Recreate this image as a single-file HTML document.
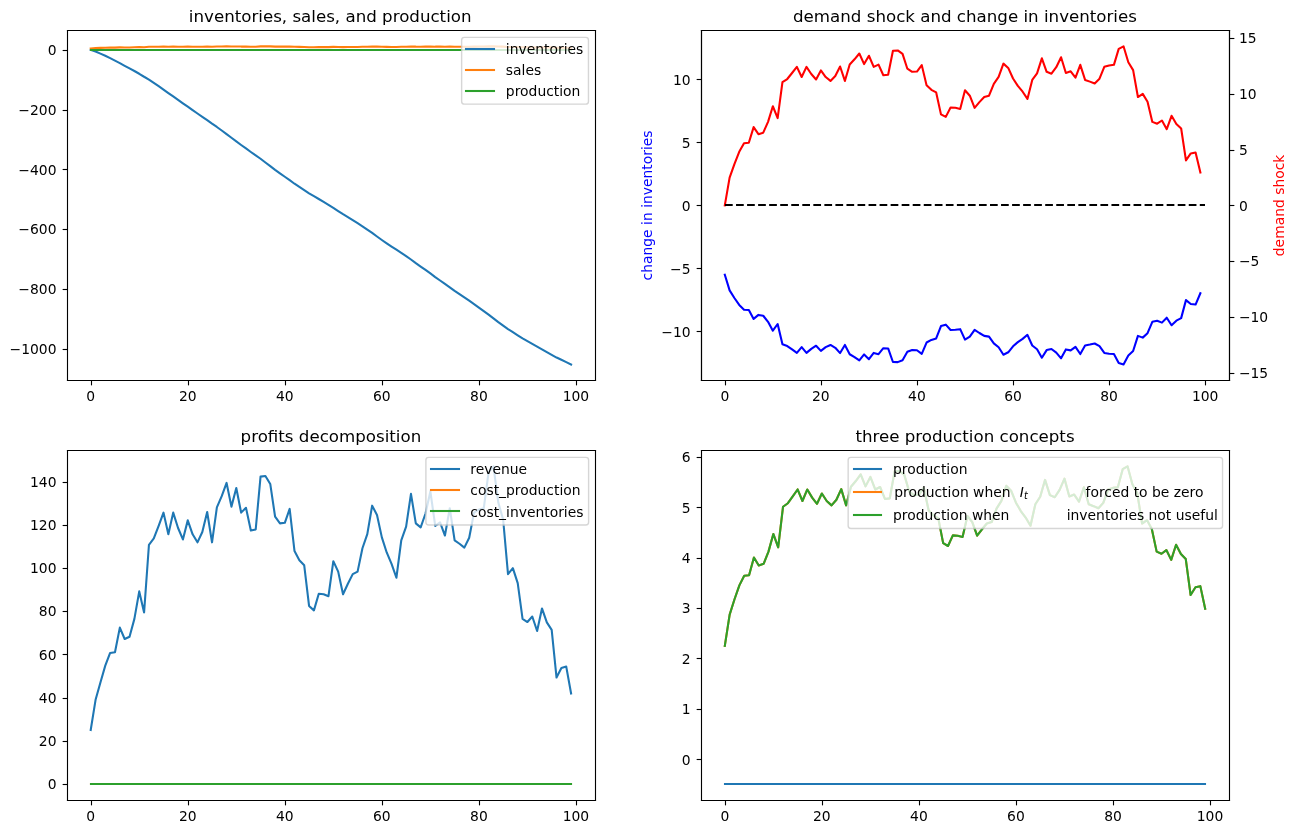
<!DOCTYPE html>
<html lang="en">
<head>
<meta charset="utf-8">
<title>inventories, sales, and production</title>
<style>
html,body{margin:0;padding:0;background:#fff}
#wrap{position:relative;width:1297px;height:834px;overflow:hidden;background:#fff}
#fig{position:absolute;left:0;top:0;display:block}
#fig text{font-family:"DejaVu Sans","Liberation Sans",sans-serif}
</style>
</head>
<body>
<div id="wrap">
<svg id="fig" width="1297" height="834" viewBox="86.97600 64.51200 933.84000 600.48000">
<defs>
<style type="text/css">*{stroke-linejoin: round; stroke-linecap: butt}</style>
</defs>
<g id="figure_1">
<g id="patch_1">
<path d="M 0 720  L 1080 720  L 1080 0  L 0 0  z" style="fill: #ffffff"/>
</g>
<g id="axes_1">
<g id="patch_2">
<path d="M 135 338.4  L 515.454545 338.4  L 515.454545 86.4  L 135 86.4  z" style="fill: #ffffff"/>
</g>
<g id="matplotlib.axis_1">
<g id="xtick_1">
<g id="line2d_1">
<g>
<path d="M 0 0 L 0 3.5" transform="translate(152.856 338.472)" style="stroke: #000000; stroke-width: 0.8"/>
</g>
</g>
<g id="text_1">
<text style="font-size: 10px; font-family: 'DejaVu Sans', sans-serif; text-anchor: middle" x="152.293388" y="352.998437">0</text>
</g>
</g>
<g id="xtick_2">
<g id="line2d_2">
<g>
<path d="M 0 0 L 0 3.5" transform="translate(222.696 338.472)" style="stroke: #000000; stroke-width: 0.8"/>
</g>
</g>
<g id="text_2">
<text style="font-size: 10px; font-family: 'DejaVu Sans', sans-serif; text-anchor: middle" x="222.165665" y="352.998437">20</text>
</g>
</g>
<g id="xtick_3">
<g id="line2d_3">
<g>
<path d="M 0 0 L 0 3.5" transform="translate(292.536 338.472)" style="stroke: #000000; stroke-width: 0.8"/>
</g>
</g>
<g id="text_3">
<text style="font-size: 10px; font-family: 'DejaVu Sans', sans-serif; text-anchor: middle" x="292.037941" y="352.998437">40</text>
</g>
</g>
<g id="xtick_4">
<g id="line2d_4">
<g>
<path d="M 0 0 L 0 3.5" transform="translate(362.376 338.472)" style="stroke: #000000; stroke-width: 0.8"/>
</g>
</g>
<g id="text_4">
<text style="font-size: 10px; font-family: 'DejaVu Sans', sans-serif; text-anchor: middle" x="361.910218" y="352.998437">60</text>
</g>
</g>
<g id="xtick_5">
<g id="line2d_5">
<g>
<path d="M 0 0 L 0 3.5" transform="translate(432.216 338.472)" style="stroke: #000000; stroke-width: 0.8"/>
</g>
</g>
<g id="text_5">
<text style="font-size: 10px; font-family: 'DejaVu Sans', sans-serif; text-anchor: middle" x="431.782494" y="352.998437">80</text>
</g>
</g>
<g id="xtick_6">
<g id="line2d_6">
<g>
<path d="M 0 0 L 0 3.5" transform="translate(502.056 338.472)" style="stroke: #000000; stroke-width: 0.8"/>
</g>
</g>
<g id="text_6">
<text style="font-size: 10px; font-family: 'DejaVu Sans', sans-serif; text-anchor: middle" x="501.654771" y="352.998437">100</text>
</g>
</g>
</g>
<g id="matplotlib.axis_2">
<g id="ytick_1">
<g id="line2d_7">
<g>
<path d="M 0 0 L -3.5 0" transform="translate(135.576 316.152)" style="stroke: #000000; stroke-width: 0.8"/>
</g>
</g>
<g id="text_7">
<text style="font-size: 10px; font-family: 'DejaVu Sans', sans-serif; text-anchor: end" x="127.6400" y="319.360076">−1000</text>
</g>
</g>
<g id="ytick_2">
<g id="line2d_8">
<g>
<path d="M 0 0 L -3.5 0" transform="translate(135.576 272.952)" style="stroke: #000000; stroke-width: 0.8"/>
</g>
</g>
<g id="text_8">
<text style="font-size: 10px; font-family: 'DejaVu Sans', sans-serif; text-anchor: end" x="127.6400" y="276.34048">−800</text>
</g>
</g>
<g id="ytick_3">
<g id="line2d_9">
<g>
<path d="M 0 0 L -3.5 0" transform="translate(135.576 229.752)" style="stroke: #000000; stroke-width: 0.8"/>
</g>
</g>
<g id="text_9">
<text style="font-size: 10px; font-family: 'DejaVu Sans', sans-serif; text-anchor: end" x="127.6400" y="233.320884">−600</text>
</g>
</g>
<g id="ytick_4">
<g id="line2d_10">
<g>
<path d="M 0 0 L -3.5 0" transform="translate(135.576 186.552)" style="stroke: #000000; stroke-width: 0.8"/>
</g>
</g>
<g id="text_10">
<text style="font-size: 10px; font-family: 'DejaVu Sans', sans-serif; text-anchor: end" x="127.6400" y="190.301288">−400</text>
</g>
</g>
<g id="ytick_5">
<g id="line2d_11">
<g>
<path d="M 0 0 L -3.5 0" transform="translate(135.576 144.072)" style="stroke: #000000; stroke-width: 0.8"/>
</g>
</g>
<g id="text_11">
<text style="font-size: 10px; font-family: 'DejaVu Sans', sans-serif; text-anchor: end" x="127.6400" y="147.281692">−200</text>
</g>
</g>
<g id="ytick_6">
<g id="line2d_12">
<g>
<path d="M 0 0 L -3.5 0" transform="translate(135.576 100.872)" style="stroke: #000000; stroke-width: 0.8"/>
</g>
</g>
<g id="text_12">
<text style="font-size: 10px; font-family: 'DejaVu Sans', sans-serif; text-anchor: end" x="127.6400" y="104.262096">0</text>
</g>
</g>
</g>
<g id="line2d_13">
<path d="M 152.293388 100.462877  L 155.787002 101.645916  L 159.280616 103.095999  L 162.77423 104.677292  L 166.267844 106.376889  L 169.761458 108.159298  L 173.255071 109.946009  L 176.748685 111.883289  L 180.242299 113.752814  L 183.735913 115.636319  L 187.229527 117.624147  L 190.72314 119.762544  L 194.216754 121.786938  L 197.710368 124.157817  L 201.203982 126.558543  L 204.697596 129.01704  L 208.19121 131.535233  L 211.684823 133.955216  L 215.178437 136.473409  L 218.672051 138.922277  L 222.165665 141.31819  L 225.659279 143.80172  L 229.152893 146.221704  L 232.646506 148.604136  L 236.14012 151.034711  L 239.633734 153.555792  L 243.127348 155.938225  L 246.620962 158.479526  L 250.114576 161.069931  L 253.608189 163.716632  L 257.101803 166.261334  L 260.595417 168.886402  L 264.089031 171.404594  L 267.582645 173.943969  L 271.076258 176.381284  L 274.569872 178.823412  L 278.063486 181.496622  L 281.5571 184.17272  L 285.050714 186.815119  L 288.544328 189.315018  L 292.037941 191.785069  L 295.531555 194.257527  L 299.025169 196.792088  L 302.518783 199.133119  L 306.012397 201.429859  L 309.506011 203.701565  L 312.999624 205.761447  L 316.493238 207.797258  L 319.986852 209.923576  L 323.480466 212.047005  L 326.97408 214.159843  L 330.467693 216.451769  L 333.961307 218.691701  L 337.454921 220.815131  L 340.948535 222.993442  L 344.442149 225.220857  L 347.935763 227.46079  L 351.429376 229.8153  L 354.92299 232.236246  L 358.416604 234.78525  L 361.910218 237.292852  L 365.403832 239.698392  L 368.897446 242.032683  L 372.391059 244.311129  L 375.884673 246.520251  L 379.378287 248.912312  L 382.871901 251.36792  L 386.365515 253.967954  L 389.859128 256.438005  L 393.352742 258.889762  L 396.846356 261.404104  L 400.33997 264.014729  L 403.833584 266.473226  L 407.327198 268.948091  L 410.820811 271.362297  L 414.314425 273.899747  L 417.808039 276.291808  L 421.301653 278.6675  L 424.795267 281.024899  L 428.288881 283.428514  L 431.782494 285.946707  L 435.276108 288.47838  L 438.769722 291.015829  L 442.263336 293.707333  L 445.75695 296.423214  L 449.250563 298.985697  L 452.744177 301.472116  L 456.237791 303.699532  L 459.731405 305.956795  L 463.225019 308.137995  L 466.718633 310.125664  L 470.212246 312.095521  L 473.70586 314.096669  L 477.199474 316.014051  L 480.693088 318.060454  L 484.186702 320.027903  L 487.680316 321.952025  L 491.173929 323.569001  L 494.667543 325.252414  L 498.161157 326.945455" clip-path="url(#p74cd14d514)" style="fill: none; stroke: #1f77b4; stroke-width: 1.5; stroke-linecap: square"/>
</g>
<g id="line2d_14">
<path d="M 152.293388 99.387387  L 155.787002 99.120343  L 159.280616 98.989134  L 162.77423 98.87083  L 166.267844 98.788017  L 169.761458 98.783715  L 173.255071 98.633146  L 176.748685 98.700902  L 180.242299 98.686921  L 183.735913 98.582598  L 187.229527 98.43203  L 190.72314 98.546032  L 194.216754 98.199548  L 197.710368 98.1697  L 201.203982 98.111929  L 204.697596 98.052234  L 208.19121 98.150443  L 211.684823 98.052234  L 215.178437 98.121558  L 218.672051 98.174514  L 222.165665 98.086896  L 225.659279 98.150443  L 229.152893 98.187994  L 232.646506 98.139852  L 236.14012 98.049345  L 239.633734 98.187994  L 243.127348 98.029125  L 246.620962 97.980021  L 250.114576 97.923725  L 253.608189 98.025725  L 257.101803 97.945359  L 260.595417 98.052234  L 264.089031 98.031051  L 267.582645 98.133112  L 271.076258 98.128298  L 274.569872 97.897217  L 278.063486 97.894328  L 281.5571 97.928027  L 285.050714 98.070527  L 288.544328 98.100375  L 292.037941 98.097968  L 295.531555 98.035865  L 299.025169 98.229396  L 302.518783 98.273686  L 306.012397 98.29872  L 309.506011 98.510544  L 312.999624 98.534615  L 316.493238 98.444109  L 319.986852 98.446997  L 323.480466 98.457588  L 326.97408 98.2785  L 330.467693 98.330494  L 333.961307 98.446997  L 337.454921 98.392115  L 340.948535 98.343011  L 344.442149 98.330494  L 347.935763 98.215916  L 351.429376 98.14948  L 354.92299 98.021423  L 358.416604 98.062825  L 361.910218 98.164886  L 365.403832 98.236136  L 368.897446 98.29198  L 372.391059 98.361304  L 375.884673 98.178365  L 379.378287 98.114818  L 382.871901 97.970392  L 386.365515 98.100375  L 389.859128 98.118669  L 393.352742 98.056085  L 396.846356 97.959801  L 400.33997 98.111929  L 403.833584 98.095561  L 407.327198 98.15622  L 410.820811 98.032977  L 414.314425 98.178365  L 417.808039 98.194734  L 421.301653 98.213027  L 424.795267 98.166811  L 428.288881 98.052234  L 431.782494 98.038754  L 435.276108 98.032977  L 438.769722 97.878923  L 442.263336 97.854545  L 445.75695 98.007943  L 449.250563 98.084007  L 452.744177 98.343011  L 456.237791 98.313163  L 459.731405 98.389227  L 463.225019 98.582757  L 466.718633 98.60057  L 470.212246 98.569277  L 473.70586 98.653044  L 477.199474 98.524024  L 480.693088 98.602977  L 484.186702 98.646305  L 487.680316 98.95345  L 491.173929 98.887014  L 494.667543 98.877386  L 498.161157 99.070916" clip-path="url(#p74cd14d514)" style="fill: none; stroke: #ff7f0e; stroke-width: 1.5; stroke-linecap: square"/>
</g>
<g id="line2d_15">
<path d="M 152.496 100.512 L 156.096 100.512 L 158.976 100.512 L 162.576 100.512 L 166.176 100.512 L 169.776 100.512 L 173.376 100.512 L 176.976 100.512 L 180.576 100.512 L 183.456 100.512 L 187.056 100.512 L 190.656 100.512 L 194.256 100.512 L 197.856 100.512 L 201.456 100.512 L 205.056 100.512 L 207.936 100.512 L 211.536 100.512 L 215.136 100.512 L 218.736 100.512 L 222.336 100.512 L 225.936 100.512 L 228.816 100.512 L 232.416 100.512 L 236.016 100.512 L 239.616 100.512 L 243.216 100.512 L 246.816 100.512 L 250.416 100.512 L 253.296 100.512 L 256.896 100.512 L 260.496 100.512 L 264.096 100.512 L 267.696 100.512 L 271.296 100.512 L 274.896 100.512 L 277.776 100.512 L 281.376 100.512 L 284.976 100.512 L 288.576 100.512 L 292.176 100.512 L 295.776 100.512 L 299.376 100.512 L 302.256 100.512 L 305.856 100.512 L 309.456 100.512 L 313.056 100.512 L 316.656 100.512 L 320.256 100.512 L 323.136 100.512 L 326.736 100.512 L 330.336 100.512 L 333.936 100.512 L 337.536 100.512 L 341.136 100.512 L 344.736 100.512 L 347.616 100.512 L 351.216 100.512 L 354.816 100.512 L 358.416 100.512 L 362.016 100.512 L 365.616 100.512 L 369.216 100.512 L 372.096 100.512 L 375.696 100.512 L 379.296 100.512 L 382.896 100.512 L 386.496 100.512 L 390.096 100.512 L 393.696 100.512 L 396.576 100.512 L 400.176 100.512 L 403.776 100.512 L 407.376 100.512 L 410.976 100.512 L 414.576 100.512 L 417.456 100.512 L 421.056 100.512 L 424.656 100.512 L 428.256 100.512 L 431.856 100.512 L 435.456 100.512 L 439.056 100.512 L 441.936 100.512 L 445.536 100.512 L 449.136 100.512 L 452.736 100.512 L 456.336 100.512 L 459.936 100.512 L 463.536 100.512 L 466.416 100.512 L 470.016 100.512 L 473.616 100.512 L 477.216 100.512 L 480.816 100.512 L 484.416 100.512 L 488.016 100.512 L 490.896 100.512 L 494.496 100.512 L 498.096 100.512" clip-path="url(#p74cd14d514)" style="fill: none; stroke: #2ca02c; stroke-width: 1.5; stroke-linecap: square"/>
</g>
<g id="patch_3">
<path d="M 135.576 338.472 L 135.576 86.472" style="fill: none; stroke: #000000; stroke-width: 0.8; stroke-linejoin: miter; stroke-linecap: square"/>
</g>
<g id="patch_4">
<path d="M 515.736 338.472 L 515.736 86.472" style="fill: none; stroke: #000000; stroke-width: 0.8; stroke-linejoin: miter; stroke-linecap: square"/>
</g>
<g id="patch_5">
<path d="M 135.576 338.472 L 515.736 338.472" style="fill: none; stroke: #000000; stroke-width: 0.8; stroke-linejoin: miter; stroke-linecap: square"/>
</g>
<g id="patch_6">
<path d="M 135.576 86.472 L 515.736 86.472" style="fill: none; stroke: #000000; stroke-width: 0.8; stroke-linejoin: miter; stroke-linecap: square"/>
</g>
<g id="text_13">
<text style="font-size: 12px; font-family: 'DejaVu Sans', sans-serif; text-anchor: middle" x="324.7233" y="80.4000">inventories, sales, and production</text>
</g>
<g id="legend_1">
<g id="patch_7">
<path d="M 421.3589 139.5144  L 508.6705 139.5144 
Q 510.6705 139.5144 510.6705 137.5144  L 510.6705 93.4000 
Q 510.6705 91.4000 508.6705 91.4000  L 421.3589 91.4000 
Q 419.3589 91.4000 419.3589 93.4000  L 419.3589 137.5144 
Q 419.3589 139.5144 421.3589 139.5144  z" style="fill: #ffffff; opacity: 0.8; stroke: #cccccc; stroke-linejoin: miter"/>
</g>
<g id="line2d_16">
<path d="M 422.496 99.792 L 432.576 99.792 L 442.656 99.792" style="fill: none; stroke: #1f77b4; stroke-width: 1.5; stroke-linecap: square"/>
</g>
<g id="text_14">
<text style="font-size: 10px; font-family: 'DejaVu Sans', sans-serif; text-anchor: start" x="451.2149" y="103.5024">inventories</text>
</g>
<g id="line2d_17">
<path d="M 422.496 114.912 L 432.576 114.912 L 442.656 114.912" style="fill: none; stroke: #ff7f0e; stroke-width: 1.5; stroke-linecap: square"/>
</g>
<g id="text_15">
<text style="font-size: 10px; font-family: 'DejaVu Sans', sans-serif; text-anchor: start" x="451.2149" y="118.7206">sales</text>
</g>
<g id="line2d_18">
<path d="M 422.496 130.032 L 432.576 130.032 L 442.656 130.032" style="fill: none; stroke: #2ca02c; stroke-width: 1.5; stroke-linecap: square"/>
</g>
<g id="text_16">
<text style="font-size: 10px; font-family: 'DejaVu Sans', sans-serif; text-anchor: start" x="451.2149" y="133.9387">production</text>
</g>
</g>
</g>
<g id="axes_2">
<g id="patch_8">
<path d="M 591.545455 338.4  L 972 338.4  L 972 86.4  L 591.545455 86.4  z" style="fill: #ffffff"/>
</g>
<g id="matplotlib.axis_3">
<g id="xtick_7">
<g id="line2d_19">
<g>
<path d="M 0 0 L 0 3.5" transform="translate(609.336 338.472)" style="stroke: #000000; stroke-width: 0.8"/>
</g>
</g>
<g id="text_17">
<text style="font-size: 10px; font-family: 'DejaVu Sans', sans-serif; text-anchor: middle" x="608.838843" y="352.998437">0</text>
</g>
</g>
<g id="xtick_8">
<g id="line2d_20">
<g>
<path d="M 0 0 L 0 3.5" transform="translate(678.456 338.472)" style="stroke: #000000; stroke-width: 0.8"/>
</g>
</g>
<g id="text_18">
<text style="font-size: 10px; font-family: 'DejaVu Sans', sans-serif; text-anchor: middle" x="678.012397" y="352.998437">20</text>
</g>
</g>
<g id="xtick_9">
<g id="line2d_21">
<g>
<path d="M 0 0 L 0 3.5" transform="translate(747.576 338.472)" style="stroke: #000000; stroke-width: 0.8"/>
</g>
</g>
<g id="text_19">
<text style="font-size: 10px; font-family: 'DejaVu Sans', sans-serif; text-anchor: middle" x="747.18595" y="352.998437">40</text>
</g>
</g>
<g id="xtick_10">
<g id="line2d_22">
<g>
<path d="M 0 0 L 0 3.5" transform="translate(816.696 338.472)" style="stroke: #000000; stroke-width: 0.8"/>
</g>
</g>
<g id="text_20">
<text style="font-size: 10px; font-family: 'DejaVu Sans', sans-serif; text-anchor: middle" x="816.359504" y="352.998437">60</text>
</g>
</g>
<g id="xtick_11">
<g id="line2d_23">
<g>
<path d="M 0 0 L 0 3.5" transform="translate(885.816 338.472)" style="stroke: #000000; stroke-width: 0.8"/>
</g>
</g>
<g id="text_21">
<text style="font-size: 10px; font-family: 'DejaVu Sans', sans-serif; text-anchor: middle" x="885.533058" y="352.998437">80</text>
</g>
</g>
<g id="xtick_12">
<g id="line2d_24">
<g>
<path d="M 0 0 L 0 3.5" transform="translate(954.936 338.472)" style="stroke: #000000; stroke-width: 0.8"/>
</g>
</g>
<g id="text_22">
<text style="font-size: 10px; font-family: 'DejaVu Sans', sans-serif; text-anchor: middle" x="954.706612" y="352.998437">100</text>
</g>
</g>
</g>
<g id="matplotlib.axis_4">
<g id="ytick_7">
<g id="line2d_25">
<g>
<path d="M 0 0 L -3.5 0" transform="translate(592.056 303.192)" style="stroke: #000000; stroke-width: 0.8"/>
</g>
</g>
<g id="text_23">
<text style="font-size: 10px; font-family: 'DejaVu Sans', sans-serif; text-anchor: end" x="584.1855" y="306.919309">−10</text>
</g>
</g>
<g id="ytick_8">
<g id="line2d_26">
<g>
<path d="M 0 0 L -3.5 0" transform="translate(592.056 257.832)" style="stroke: #000000; stroke-width: 0.8"/>
</g>
</g>
<g id="text_24">
<text style="font-size: 10px; font-family: 'DejaVu Sans', sans-serif; text-anchor: end" x="584.1855" y="261.559264">−5</text>
</g>
</g>
<g id="ytick_9">
<g id="line2d_27">
<g>
<path d="M 0 0 L -3.5 0" transform="translate(592.056 212.472)" style="stroke: #000000; stroke-width: 0.8"/>
</g>
</g>
<g id="text_25">
<text style="font-size: 10px; font-family: 'DejaVu Sans', sans-serif; text-anchor: end" x="584.1855" y="216.199219">0</text>
</g>
</g>
<g id="ytick_10">
<g id="line2d_28">
<g>
<path d="M 0 0 L -3.5 0" transform="translate(592.056 167.112)" style="stroke: #000000; stroke-width: 0.8"/>
</g>
</g>
<g id="text_26">
<text style="font-size: 10px; font-family: 'DejaVu Sans', sans-serif; text-anchor: end" x="584.1855" y="170.839173">5</text>
</g>
</g>
<g id="ytick_11">
<g id="line2d_29">
<g>
<path d="M 0 0 L -3.5 0" transform="translate(592.056 121.752)" style="stroke: #000000; stroke-width: 0.8"/>
</g>
</g>
<g id="text_27">
<text style="font-size: 10px; font-family: 'DejaVu Sans', sans-serif; text-anchor: end" x="584.1855" y="125.479128">10</text>
</g>
</g>
<g id="text_28">
<text style="font-size: 10px; font-family: 'DejaVu Sans', sans-serif; text-anchor: middle; fill: #0000ff" x="556.6411" y="212.4000" transform="rotate(-90 556.6411 212.4000)">change in inventories</text>
</g>
</g>
<g id="line2d_30">
<path d="M 608.838843 262.29605  L 612.297521 273.558949  L 615.756198 279.092875  L 619.214876 284.08248  L 622.673554 287.575203  L 626.132231 287.756643  L 629.590909 294.10705  L 633.049587 291.249367  L 636.508264 291.839047  L 639.966942 296.238972  L 643.42562 302.589378  L 646.884298 297.781213  L 650.342975 312.394579  L 653.801653 313.653453  L 657.260331 316.089981  L 660.719008 318.607728  L 664.177686 314.465629  L 667.636364 318.607728  L 671.095041 315.683893  L 674.553719 313.450409  L 678.012397 317.145811  L 681.471074 314.465629  L 684.929752 312.881885  L 688.38843 314.912326  L 691.847107 318.729554  L 695.305785 312.881885  L 698.764463 319.582339  L 702.22314 321.653389  L 705.681818 324.027705  L 709.140496 319.72577  L 712.599174 323.115306  L 716.057851 318.607728  L 719.516529 319.501122  L 722.975207 315.196588  L 726.433884 315.399632  L 729.892562 325.145747  L 733.35124 325.267573  L 736.809917 323.846265  L 740.268595 317.83616  L 743.727273 316.577287  L 747.18595 316.678809  L 750.644628 319.298078  L 754.103306 311.135706  L 757.561983 309.267701  L 761.020661 308.211872  L 764.479339 299.277932  L 767.938017 298.262712  L 771.396694 302.079941  L 774.855372 301.958114  L 778.31405 301.511417  L 781.772727 309.064657  L 785.231405 306.871781  L 788.690083 301.958114  L 792.14876 304.272817  L 795.607438 306.343866  L 799.066116 306.871781  L 802.524793 311.70423  L 805.983471 314.506238  L 809.442149 319.90721  L 812.900826 318.161031  L 816.359504 313.856497  L 819.818182 310.851444  L 823.27686 308.496133  L 826.735537 305.572299  L 830.194215 313.287973  L 833.652893 315.968155  L 837.11157 322.059477  L 840.570248 316.577287  L 844.028926 315.80572  L 847.487603 318.445293  L 850.946281 322.506174  L 854.404959 316.089981  L 857.863636 316.780331  L 861.322314 314.221976  L 864.780992 319.419904  L 868.239669 313.287973  L 871.698347 312.597623  L 875.157025 311.826056  L 878.615702 313.775279  L 882.07438 318.607728  L 885.533058 319.176251  L 888.991736 319.419904  L 892.450413 325.917314  L 895.909091 326.945455  L 899.367769 320.475733  L 902.826446 317.267637  L 906.285124 306.343866  L 909.743802 307.602739  L 913.202479 304.394643  L 916.661157 296.232271  L 920.119835 295.481008  L 923.578512 296.800795  L 927.03719 293.267828  L 930.495868 298.709409  L 933.954545 295.379486  L 937.413223 293.55209  L 940.871901 280.597878  L 944.330579 283.399886  L 947.789256 283.805974  L 951.247934 275.643603" clip-path="url(#p0571e4facb)" style="fill: none; stroke: #0000ff; stroke-width: 1.5; stroke-linecap: square"/>
</g>
<g id="patch_9">
<path d="M 592.056 338.472 L 592.056 86.472" style="fill: none; stroke: #000000; stroke-width: 0.8; stroke-linejoin: miter; stroke-linecap: square"/>
</g>
<g id="patch_10">
<path d="M 972.216 338.472 L 972.216 86.472" style="fill: none; stroke: #000000; stroke-width: 0.8; stroke-linejoin: miter; stroke-linecap: square"/>
</g>
<g id="patch_11">
<path d="M 592.056 338.472 L 972.216 338.472" style="fill: none; stroke: #000000; stroke-width: 0.8; stroke-linejoin: miter; stroke-linecap: square"/>
</g>
<g id="patch_12">
<path d="M 592.056 86.472 L 972.216 86.472" style="fill: none; stroke: #000000; stroke-width: 0.8; stroke-linejoin: miter; stroke-linecap: square"/>
</g>
<g id="text_29">
<text style="font-size: 12px; font-family: 'DejaVu Sans', sans-serif; text-anchor: middle" x="781.772727" y="80.4">demand shock and change in inventories</text>
</g>
</g>
<g id="axes_3">
<g id="patch_13">
<path d="M 135 640.8  L 515.454545 640.8  L 515.454545 388.8  L 135 388.8  z" style="fill: #ffffff"/>
</g>
<g id="matplotlib.axis_5">
<g id="xtick_13">
<g id="line2d_31">
<g>
<path d="M 0 0 L 0 3.5" transform="translate(152.856 640.872)" style="stroke: #000000; stroke-width: 0.8"/>
</g>
</g>
<g id="text_30">
<text style="font-size: 10px; font-family: 'DejaVu Sans', sans-serif; text-anchor: middle" x="152.293388" y="655.398438">0</text>
</g>
</g>
<g id="xtick_14">
<g id="line2d_32">
<g>
<path d="M 0 0 L 0 3.5" transform="translate(222.696 640.872)" style="stroke: #000000; stroke-width: 0.8"/>
</g>
</g>
<g id="text_31">
<text style="font-size: 10px; font-family: 'DejaVu Sans', sans-serif; text-anchor: middle" x="222.165665" y="655.398438">20</text>
</g>
</g>
<g id="xtick_15">
<g id="line2d_33">
<g>
<path d="M 0 0 L 0 3.5" transform="translate(292.536 640.872)" style="stroke: #000000; stroke-width: 0.8"/>
</g>
</g>
<g id="text_32">
<text style="font-size: 10px; font-family: 'DejaVu Sans', sans-serif; text-anchor: middle" x="292.037941" y="655.398438">40</text>
</g>
</g>
<g id="xtick_16">
<g id="line2d_34">
<g>
<path d="M 0 0 L 0 3.5" transform="translate(362.376 640.872)" style="stroke: #000000; stroke-width: 0.8"/>
</g>
</g>
<g id="text_33">
<text style="font-size: 10px; font-family: 'DejaVu Sans', sans-serif; text-anchor: middle" x="361.910218" y="655.398438">60</text>
</g>
</g>
<g id="xtick_17">
<g id="line2d_35">
<g>
<path d="M 0 0 L 0 3.5" transform="translate(432.216 640.872)" style="stroke: #000000; stroke-width: 0.8"/>
</g>
</g>
<g id="text_34">
<text style="font-size: 10px; font-family: 'DejaVu Sans', sans-serif; text-anchor: middle" x="431.782494" y="655.398438">80</text>
</g>
</g>
<g id="xtick_18">
<g id="line2d_36">
<g>
<path d="M 0 0 L 0 3.5" transform="translate(502.056 640.872)" style="stroke: #000000; stroke-width: 0.8"/>
</g>
</g>
<g id="text_35">
<text style="font-size: 10px; font-family: 'DejaVu Sans', sans-serif; text-anchor: middle" x="501.654771" y="655.398438">100</text>
</g>
</g>
</g>
<g id="matplotlib.axis_6">
<g id="ytick_12">
<g id="line2d_37">
<g>
<path d="M 0 0 L -3.5 0" transform="translate(135.576 629.352)" style="stroke: #000000; stroke-width: 0.8"/>
</g>
</g>
<g id="text_36">
<text style="font-size: 10px; font-family: 'DejaVu Sans', sans-serif; text-anchor: end" x="127.6400" y="632.755846">0</text>
</g>
</g>
<g id="ytick_13">
<g id="line2d_38">
<g>
<path d="M 0 0 L -3.5 0" transform="translate(135.576 598.392)" style="stroke: #000000; stroke-width: 0.8"/>
</g>
</g>
<g id="text_37">
<text style="font-size: 10px; font-family: 'DejaVu Sans', sans-serif; text-anchor: end" x="127.6400" y="601.649637">20</text>
</g>
</g>
<g id="ytick_14">
<g id="line2d_39">
<g>
<path d="M 0 0 L -3.5 0" transform="translate(135.576 567.432)" style="stroke: #000000; stroke-width: 0.8"/>
</g>
</g>
<g id="text_38">
<text style="font-size: 10px; font-family: 'DejaVu Sans', sans-serif; text-anchor: end" x="127.6400" y="570.543429">40</text>
</g>
</g>
<g id="ytick_15">
<g id="line2d_40">
<g>
<path d="M 0 0 L -3.5 0" transform="translate(135.576 535.752)" style="stroke: #000000; stroke-width: 0.8"/>
</g>
</g>
<g id="text_39">
<text style="font-size: 10px; font-family: 'DejaVu Sans', sans-serif; text-anchor: end" x="127.6400" y="539.43722">60</text>
</g>
</g>
<g id="ytick_16">
<g id="line2d_41">
<g>
<path d="M 0 0 L -3.5 0" transform="translate(135.576 504.792)" style="stroke: #000000; stroke-width: 0.8"/>
</g>
</g>
<g id="text_40">
<text style="font-size: 10px; font-family: 'DejaVu Sans', sans-serif; text-anchor: end" x="127.6400" y="508.331012">80</text>
</g>
</g>
<g id="ytick_17">
<g id="line2d_42">
<g>
<path d="M 0 0 L -3.5 0" transform="translate(135.576 473.832)" style="stroke: #000000; stroke-width: 0.8"/>
</g>
</g>
<g id="text_41">
<text style="font-size: 10px; font-family: 'DejaVu Sans', sans-serif; text-anchor: end" x="127.6400" y="477.224804">100</text>
</g>
</g>
<g id="ytick_18">
<g id="line2d_43">
<g>
<path d="M 0 0 L -3.5 0" transform="translate(135.576 442.872)" style="stroke: #000000; stroke-width: 0.8"/>
</g>
</g>
<g id="text_42">
<text style="font-size: 10px; font-family: 'DejaVu Sans', sans-serif; text-anchor: end" x="127.6400" y="446.118595">120</text>
</g>
</g>
<g id="ytick_19">
<g id="line2d_44">
<g>
<path d="M 0 0 L -3.5 0" transform="translate(135.576 411.912)" style="stroke: #000000; stroke-width: 0.8"/>
</g>
</g>
<g id="text_43">
<text style="font-size: 10px; font-family: 'DejaVu Sans', sans-serif; text-anchor: end" x="127.6400" y="415.012387">140</text>
</g>
</g>
</g>
<g id="line2d_45">
<path d="M 152.293388 590.073866  L 155.787002 568.367453  L 159.280616 555.945609  L 162.77423 543.753297  L 166.267844 534.658806  L 169.761458 534.173767  L 173.255071 516.413521  L 176.748685 524.594252  L 180.242299 522.931439  L 183.735913 510.109413  L 187.229527 490.313266  L 190.72314 505.441911  L 194.216754 456.753901  L 197.710368 452.182057  L 201.203982 443.163174  L 204.697596 433.607938  L 208.19121 449.200694  L 211.684823 433.607938  L 215.178437 444.681903  L 218.672051 452.923503  L 222.165665 439.185309  L 225.659279 449.200694  L 229.152893 454.99126  L 232.646506 447.550317  L 236.14012 433.139511  L 239.633734 454.99126  L 243.127348 429.844815  L 246.620962 421.728976  L 250.114576 412.225265  L 253.608189 429.287978  L 257.101803 415.902544  L 260.595417 433.607938  L 264.089031 430.15978  L 267.582645 446.496151  L 271.076258 445.741305  L 274.569872 407.676273  L 278.063486 407.177742  L 281.5571 412.959037  L 285.050714 436.561616  L 288.544328 441.332472  L 292.037941 440.949946  L 295.531555 430.946101  L 299.025169 461.265847  L 302.518783 467.850611  L 306.012397 471.514095  L 309.506011 500.826224  L 312.999624 503.966269  L 316.493238 491.95757  L 319.986852 492.349334  L 323.480466 493.781003  L 326.97408 468.558399  L 330.467693 476.103227  L 333.961307 492.349334  L 337.454921 484.809895  L 340.948535 477.89243  L 344.442149 476.103227  L 347.935763 459.235611  L 351.429376 449.050971  L 354.92299 428.582462  L 358.416604 435.320705  L 361.910218 451.439054  L 365.403832 462.276384  L 368.897446 470.531917  L 372.391059 480.488472  L 375.884673 453.515537  L 379.378287 443.619447  L 382.871901 420.118626  L 386.365515 441.332472  L 389.859128 444.226939  L 393.352742 434.231635  L 396.846356 418.340041  L 400.33997 443.163174  L 403.833584 440.56703  L 407.327198 450.097721  L 410.820811 430.474495  L 414.314425 453.515537  L 417.808039 456.020558  L 421.301653 458.798971  L 424.795267 451.736442  L 428.288881 433.607938  L 431.782494 431.417146  L 435.276108 430.474495  L 438.769722 404.509434  L 442.263336 400.254545  L 445.75695 426.363747  L 449.250563 438.723613  L 452.744177 477.89243  L 456.237791 473.608478  L 459.731405 484.407473  L 463.225019 510.129495  L 466.718633 512.370397  L 470.212246 508.419498  L 473.70586 518.847985  L 477.199474 502.589448  L 480.693088 512.671585  L 484.186702 518.026364  L 487.680316 552.367175  L 491.173929 545.476801  L 494.667543 544.453577  L 498.161157 563.823976" clip-path="url(#pb5e3364a83)" style="fill: none; stroke: #1f77b4; stroke-width: 1.5; stroke-linecap: square"/>
</g>
<g id="line2d_46">
<path d="M 152.496 628.992 L 156.096 628.992 L 158.976 628.992 L 162.576 628.992 L 166.176 628.992 L 169.776 628.992 L 173.376 628.992 L 176.976 628.992 L 180.576 628.992 L 183.456 628.992 L 187.056 628.992 L 190.656 628.992 L 194.256 628.992 L 197.856 628.992 L 201.456 628.992 L 205.056 628.992 L 207.936 628.992 L 211.536 628.992 L 215.136 628.992 L 218.736 628.992 L 222.336 628.992 L 225.936 628.992 L 228.816 628.992 L 232.416 628.992 L 236.016 628.992 L 239.616 628.992 L 243.216 628.992 L 246.816 628.992 L 250.416 628.992 L 253.296 628.992 L 256.896 628.992 L 260.496 628.992 L 264.096 628.992 L 267.696 628.992 L 271.296 628.992 L 274.896 628.992 L 277.776 628.992 L 281.376 628.992 L 284.976 628.992 L 288.576 628.992 L 292.176 628.992 L 295.776 628.992 L 299.376 628.992 L 302.256 628.992 L 305.856 628.992 L 309.456 628.992 L 313.056 628.992 L 316.656 628.992 L 320.256 628.992 L 323.136 628.992 L 326.736 628.992 L 330.336 628.992 L 333.936 628.992 L 337.536 628.992 L 341.136 628.992 L 344.736 628.992 L 347.616 628.992 L 351.216 628.992 L 354.816 628.992 L 358.416 628.992 L 362.016 628.992 L 365.616 628.992 L 369.216 628.992 L 372.096 628.992 L 375.696 628.992 L 379.296 628.992 L 382.896 628.992 L 386.496 628.992 L 390.096 628.992 L 393.696 628.992 L 396.576 628.992 L 400.176 628.992 L 403.776 628.992 L 407.376 628.992 L 410.976 628.992 L 414.576 628.992 L 417.456 628.992 L 421.056 628.992 L 424.656 628.992 L 428.256 628.992 L 431.856 628.992 L 435.456 628.992 L 439.056 628.992 L 441.936 628.992 L 445.536 628.992 L 449.136 628.992 L 452.736 628.992 L 456.336 628.992 L 459.936 628.992 L 463.536 628.992 L 466.416 628.992 L 470.016 628.992 L 473.616 628.992 L 477.216 628.992 L 480.816 628.992 L 484.416 628.992 L 488.016 628.992 L 490.896 628.992 L 494.496 628.992 L 498.096 628.992" clip-path="url(#pb5e3364a83)" style="fill: none; stroke: #ff7f0e; stroke-width: 1.5; stroke-linecap: square"/>
</g>
<g id="line2d_47">
<path d="M 152.496 628.992 L 156.096 628.992 L 158.976 628.992 L 162.576 628.992 L 166.176 628.992 L 169.776 628.992 L 173.376 628.992 L 176.976 628.992 L 180.576 628.992 L 183.456 628.992 L 187.056 628.992 L 190.656 628.992 L 194.256 628.992 L 197.856 628.992 L 201.456 628.992 L 205.056 628.992 L 207.936 628.992 L 211.536 628.992 L 215.136 628.992 L 218.736 628.992 L 222.336 628.992 L 225.936 628.992 L 228.816 628.992 L 232.416 628.992 L 236.016 628.992 L 239.616 628.992 L 243.216 628.992 L 246.816 628.992 L 250.416 628.992 L 253.296 628.992 L 256.896 628.992 L 260.496 628.992 L 264.096 628.992 L 267.696 628.992 L 271.296 628.992 L 274.896 628.992 L 277.776 628.992 L 281.376 628.992 L 284.976 628.992 L 288.576 628.992 L 292.176 628.992 L 295.776 628.992 L 299.376 628.992 L 302.256 628.992 L 305.856 628.992 L 309.456 628.992 L 313.056 628.992 L 316.656 628.992 L 320.256 628.992 L 323.136 628.992 L 326.736 628.992 L 330.336 628.992 L 333.936 628.992 L 337.536 628.992 L 341.136 628.992 L 344.736 628.992 L 347.616 628.992 L 351.216 628.992 L 354.816 628.992 L 358.416 628.992 L 362.016 628.992 L 365.616 628.992 L 369.216 628.992 L 372.096 628.992 L 375.696 628.992 L 379.296 628.992 L 382.896 628.992 L 386.496 628.992 L 390.096 628.992 L 393.696 628.992 L 396.576 628.992 L 400.176 628.992 L 403.776 628.992 L 407.376 628.992 L 410.976 628.992 L 414.576 628.992 L 417.456 628.992 L 421.056 628.992 L 424.656 628.992 L 428.256 628.992 L 431.856 628.992 L 435.456 628.992 L 439.056 628.992 L 441.936 628.992 L 445.536 628.992 L 449.136 628.992 L 452.736 628.992 L 456.336 628.992 L 459.936 628.992 L 463.536 628.992 L 466.416 628.992 L 470.016 628.992 L 473.616 628.992 L 477.216 628.992 L 480.816 628.992 L 484.416 628.992 L 488.016 628.992 L 490.896 628.992 L 494.496 628.992 L 498.096 628.992" clip-path="url(#pb5e3364a83)" style="fill: none; stroke: #2ca02c; stroke-width: 1.5; stroke-linecap: square"/>
</g>
<g id="patch_14">
<path d="M 135.576 640.872 L 135.576 388.872" style="fill: none; stroke: #000000; stroke-width: 0.8; stroke-linejoin: miter; stroke-linecap: square"/>
</g>
<g id="patch_15">
<path d="M 515.736 640.872 L 515.736 388.872" style="fill: none; stroke: #000000; stroke-width: 0.8; stroke-linejoin: miter; stroke-linecap: square"/>
</g>
<g id="patch_16">
<path d="M 135.576 640.872 L 515.736 640.872" style="fill: none; stroke: #000000; stroke-width: 0.8; stroke-linejoin: miter; stroke-linecap: square"/>
</g>
<g id="patch_17">
<path d="M 135.576 388.872 L 515.736 388.872" style="fill: none; stroke: #000000; stroke-width: 0.8; stroke-linejoin: miter; stroke-linecap: square"/>
</g>
<g id="text_44">
<text style="font-size: 12px; font-family: 'DejaVu Sans', sans-serif; text-anchor: middle" x="325.227273" y="382.8">profits decomposition</text>
</g>
<g id="legend_2">
<g id="patch_18">
<path d="M 395.6120 442.4706  L 508.7785 442.4706 
Q 510.7785 442.4706 510.7785 440.4706  L 510.7785 395.8000 
Q 510.7785 393.8000 508.7785 393.8000  L 395.6120 393.8000 
Q 393.6120 393.8000 393.6120 395.8000  L 393.6120 440.4706 
Q 393.6120 442.4706 395.6120 442.4706  z" style="fill: #ffffff; opacity: 0.8; stroke: #cccccc; stroke-linejoin: miter"/>
</g>
<g id="line2d_48">
<path d="M 397.2960 402.192 L 407.3760 402.192 L 417.4560 402.192" style="fill: none; stroke: #1f77b4; stroke-width: 1.5; stroke-linecap: square"/>
</g>
<g id="text_45">
<text style="font-size: 10px; font-family: 'DejaVu Sans', sans-serif; text-anchor: start" x="425.6120" y="405.9024">revenue</text>
</g>
<g id="line2d_49">
<path d="M 397.2960 417.312 L 407.3760 417.312 L 417.4560 417.312" style="fill: none; stroke: #ff7f0e; stroke-width: 1.5; stroke-linecap: square"/>
</g>
<g id="text_46">
<text style="font-size: 10px; font-family: 'DejaVu Sans', sans-serif; text-anchor: start" x="425.6120" y="421.1206">cost_production</text>
</g>
<g id="line2d_50">
<path d="M 397.2960 432.432 L 407.3760 432.432 L 417.4560 432.432" style="fill: none; stroke: #2ca02c; stroke-width: 1.5; stroke-linecap: square"/>
</g>
<g id="text_47">
<text style="font-size: 10px; font-family: 'DejaVu Sans', sans-serif; text-anchor: start" x="425.6120" y="436.6168">cost_inventories</text>
</g>
</g>
</g>
<g id="axes_4">
<g id="patch_19">
<path d="M 591.545455 640.8  L 972 640.8  L 972 388.8  L 591.545455 388.8  z" style="fill: #ffffff"/>
</g>
<g id="matplotlib.axis_7">
<g id="xtick_19">
<g id="line2d_51">
<g>
<path d="M 0 0 L 0 3.5" transform="translate(609.336 640.872)" style="stroke: #000000; stroke-width: 0.8"/>
</g>
</g>
<g id="text_48">
<text style="font-size: 10px; font-family: 'DejaVu Sans', sans-serif; text-anchor: middle" x="608.838843" y="655.398438">0</text>
</g>
</g>
<g id="xtick_20">
<g id="line2d_52">
<g>
<path d="M 0 0 L 0 3.5" transform="translate(679.176 640.872)" style="stroke: #000000; stroke-width: 0.8"/>
</g>
</g>
<g id="text_49">
<text style="font-size: 10px; font-family: 'DejaVu Sans', sans-serif; text-anchor: middle" x="678.711119" y="655.398438">20</text>
</g>
</g>
<g id="xtick_21">
<g id="line2d_53">
<g>
<path d="M 0 0 L 0 3.5" transform="translate(749.016 640.872)" style="stroke: #000000; stroke-width: 0.8"/>
</g>
</g>
<g id="text_50">
<text style="font-size: 10px; font-family: 'DejaVu Sans', sans-serif; text-anchor: middle" x="748.583396" y="655.398438">40</text>
</g>
</g>
<g id="xtick_22">
<g id="line2d_54">
<g>
<path d="M 0 0 L 0 3.5" transform="translate(818.856 640.872)" style="stroke: #000000; stroke-width: 0.8"/>
</g>
</g>
<g id="text_51">
<text style="font-size: 10px; font-family: 'DejaVu Sans', sans-serif; text-anchor: middle" x="818.455672" y="655.398438">60</text>
</g>
</g>
<g id="xtick_23">
<g id="line2d_55">
<g>
<path d="M 0 0 L 0 3.5" transform="translate(888.696 640.872)" style="stroke: #000000; stroke-width: 0.8"/>
</g>
</g>
<g id="text_52">
<text style="font-size: 10px; font-family: 'DejaVu Sans', sans-serif; text-anchor: middle" x="888.327949" y="655.398438">80</text>
</g>
</g>
<g id="xtick_24">
<g id="line2d_56">
<g>
<path d="M 0 0 L 0 3.5" transform="translate(958.536 640.872)" style="stroke: #000000; stroke-width: 0.8"/>
</g>
</g>
<g id="text_53">
<text style="font-size: 10px; font-family: 'DejaVu Sans', sans-serif; text-anchor: middle" x="958.200225" y="655.398438">100</text>
</g>
</g>
</g>
<g id="matplotlib.axis_8">
<g id="ytick_20">
<g id="line2d_57">
<g>
<path d="M 0 0 L -3.5 0" transform="translate(592.056 611.352)" style="stroke: #000000; stroke-width: 0.8"/>
</g>
</g>
<g id="text_54">
<text style="font-size: 10px; font-family: 'DejaVu Sans', sans-serif; text-anchor: end" x="584.1855" y="615.000655">0</text>
</g>
</g>
<g id="ytick_21">
<g id="line2d_58">
<g>
<path d="M 0 0 L -3.5 0" transform="translate(592.056 575.352)" style="stroke: #000000; stroke-width: 0.8"/>
</g>
</g>
<g id="text_55">
<text style="font-size: 10px; font-family: 'DejaVu Sans', sans-serif; text-anchor: end" x="584.1855" y="578.712619">1</text>
</g>
</g>
<g id="ytick_22">
<g id="line2d_59">
<g>
<path d="M 0 0 L -3.5 0" transform="translate(592.056 538.632)" style="stroke: #000000; stroke-width: 0.8"/>
</g>
</g>
<g id="text_56">
<text style="font-size: 10px; font-family: 'DejaVu Sans', sans-serif; text-anchor: end" x="584.1855" y="542.424583">2</text>
</g>
</g>
<g id="ytick_23">
<g id="line2d_60">
<g>
<path d="M 0 0 L -3.5 0" transform="translate(592.056 502.632)" style="stroke: #000000; stroke-width: 0.8"/>
</g>
</g>
<g id="text_57">
<text style="font-size: 10px; font-family: 'DejaVu Sans', sans-serif; text-anchor: end" x="584.1855" y="506.136546">3</text>
</g>
</g>
<g id="ytick_24">
<g id="line2d_61">
<g>
<path d="M 0 0 L -3.5 0" transform="translate(592.056 466.632)" style="stroke: #000000; stroke-width: 0.8"/>
</g>
</g>
<g id="text_58">
<text style="font-size: 10px; font-family: 'DejaVu Sans', sans-serif; text-anchor: end" x="584.1855" y="469.84851">4</text>
</g>
</g>
<g id="ytick_25">
<g id="line2d_62">
<g>
<path d="M 0 0 L -3.5 0" transform="translate(592.056 429.912)" style="stroke: #000000; stroke-width: 0.8"/>
</g>
</g>
<g id="text_59">
<text style="font-size: 10px; font-family: 'DejaVu Sans', sans-serif; text-anchor: end" x="584.1855" y="433.560474">5</text>
</g>
</g>
<g id="ytick_26">
<g id="line2d_63">
<g>
<path d="M 0 0 L -3.5 0" transform="translate(592.056 393.912)" style="stroke: #000000; stroke-width: 0.8"/>
</g>
</g>
<g id="text_60">
<text style="font-size: 10px; font-family: 'DejaVu Sans', sans-serif; text-anchor: end" x="584.1855" y="397.272437">6</text>
</g>
</g>
</g>
<g id="line2d_64">
<path d="M 608.976 628.992 L 612.576 628.992 L 616.176 628.992 L 619.056 628.992 L 622.656 628.992 L 626.256 628.992 L 629.856 628.992 L 633.456 628.992 L 637.056 628.992 L 639.936 628.992 L 643.536 628.992 L 647.136 628.992 L 650.736 628.992 L 654.336 628.992 L 657.936 628.992 L 661.536 628.992 L 664.416 628.992 L 668.016 628.992 L 671.616 628.992 L 675.216 628.992 L 678.816 628.992 L 682.416 628.992 L 686.016 628.992 L 688.896 628.992 L 692.496 628.992 L 696.096 628.992 L 699.696 628.992 L 703.296 628.992 L 706.896 628.992 L 710.496 628.992 L 713.376 628.992 L 716.976 628.992 L 720.576 628.992 L 724.176 628.992 L 727.776 628.992 L 731.376 628.992 L 734.256 628.992 L 737.856 628.992 L 741.456 628.992 L 745.056 628.992 L 748.656 628.992 L 752.256 628.992 L 755.856 628.992 L 758.736 628.992 L 762.336 628.992 L 765.936 628.992 L 769.536 628.992 L 773.136 628.992 L 776.736 628.992 L 780.336 628.992 L 783.216 628.992 L 786.816 628.992 L 790.416 628.992 L 794.016 628.992 L 797.616 628.992 L 801.216 628.992 L 804.816 628.992 L 807.696 628.992 L 811.296 628.992 L 814.896 628.992 L 818.496 628.992 L 822.096 628.992 L 825.696 628.992 L 829.296 628.992 L 832.176 628.992 L 835.776 628.992 L 839.376 628.992 L 842.976 628.992 L 846.576 628.992 L 850.176 628.992 L 853.056 628.992 L 856.656 628.992 L 860.256 628.992 L 863.856 628.992 L 867.456 628.992 L 871.056 628.992 L 874.656 628.992 L 877.536 628.992 L 881.136 628.992 L 884.736 628.992 L 888.336 628.992 L 891.936 628.992 L 895.536 628.992 L 899.136 628.992 L 902.016 628.992 L 905.616 628.992 L 909.216 628.992 L 912.816 628.992 L 916.416 628.992 L 920.016 628.992 L 923.616 628.992 L 926.496 628.992 L 930.096 628.992 L 933.696 628.992 L 937.296 628.992 L 940.896 628.992 L 944.496 628.992 L 947.376 628.992 L 950.976 628.992 L 954.576 628.992" clip-path="url(#p81e7b99f2a)" style="fill: none; stroke: #1f77b4; stroke-width: 1.5; stroke-linecap: square"/>
</g>
<g id="line2d_65">
<path d="M 608.838843 529.553355  L 612.332457 507.027556  L 615.826071 495.959705  L 619.319684 485.980495  L 622.813298 478.995048  L 626.306912 478.632168  L 629.800526 465.931355  L 633.29414 471.646721  L 636.787754 470.46736  L 640.281367 461.667511  L 643.774981 448.966698  L 647.268595 458.583028  L 650.762209 429.356296  L 654.255823 426.838549  L 657.749437 421.965492  L 661.24305 416.929999  L 664.736664 425.214197  L 668.230278 416.929999  L 671.723892 422.777668  L 675.217506 427.244637  L 678.711119 419.853833  L 682.204733 425.214197  L 685.698347 428.381684  L 689.191961 424.320803  L 692.685575 416.686346  L 696.179189 428.381684  L 699.672802 414.980776  L 703.166416 410.838677  L 706.66003 406.090044  L 710.153644 414.693915  L 713.647258 407.914842  L 717.140872 416.929999  L 720.634485 415.143211  L 724.128099 423.752279  L 727.621713 423.346191  L 731.115327 403.85396  L 734.608941 403.610308  L 738.102554 406.452925  L 741.596168 418.473134  L 745.089782 420.99088  L 748.583396 420.787836  L 752.07701 415.549299  L 755.570624 431.874042  L 759.064237 435.610053  L 762.557851 437.721711  L 766.051465 455.58959  L 769.545079 457.62003  L 773.038693 449.985573  L 776.532307 450.229226  L 780.02592 451.12262  L 783.519534 436.016141  L 787.013148 440.401893  L 790.506762 450.229226  L 794.000376 445.599821  L 797.493989 441.457722  L 800.987603 440.401893  L 804.481217 430.736995  L 807.974831 425.132979  L 811.468445 414.331035  L 814.962059 417.823393  L 818.455672 426.432461  L 821.949286 432.442566  L 825.4429 437.153188  L 828.936514 443.000857  L 832.430128 427.569508  L 835.923742 422.209144  L 839.417355 410.0265  L 842.910969 420.99088  L 846.404583 422.534015  L 849.898197 417.254869  L 853.391811 409.133106  L 856.885424 421.965492  L 860.379038 420.584792  L 863.872652 425.701502  L 867.366266 415.305646  L 870.85988 427.569508  L 874.353494 428.950208  L 877.847107 430.493343  L 881.340721 426.594896  L 884.834335 416.929999  L 888.327949 415.792952  L 891.821563 415.305646  L 895.315177 402.310826  L 898.80879 400.254545  L 902.302404 413.193988  L 905.796018 419.61018  L 909.289632 441.457722  L 912.783246 438.939976  L 916.27686 445.356169  L 919.770473 461.680912  L 923.264087 463.183438  L 926.757701 460.543865  L 930.251315 467.609799  L 933.744929 456.726636  L 937.238542 463.386482  L 940.732156 467.041275  L 944.22577 492.949699  L 947.719384 487.345682  L 951.212998 486.533506  L 954.706612 502.858249" clip-path="url(#p81e7b99f2a)" style="fill: none; stroke: #ff7f0e; stroke-width: 1.5; stroke-linecap: square"/>
</g>
<g id="line2d_66">
<path d="M 608.838843 529.553355  L 612.332457 507.027556  L 615.826071 495.959705  L 619.319684 485.980495  L 622.813298 478.995048  L 626.306912 478.632168  L 629.800526 465.931355  L 633.29414 471.646721  L 636.787754 470.46736  L 640.281367 461.667511  L 643.774981 448.966698  L 647.268595 458.583028  L 650.762209 429.356296  L 654.255823 426.838549  L 657.749437 421.965492  L 661.24305 416.929999  L 664.736664 425.214197  L 668.230278 416.929999  L 671.723892 422.777668  L 675.217506 427.244637  L 678.711119 419.853833  L 682.204733 425.214197  L 685.698347 428.381684  L 689.191961 424.320803  L 692.685575 416.686346  L 696.179189 428.381684  L 699.672802 414.980776  L 703.166416 410.838677  L 706.66003 406.090044  L 710.153644 414.693915  L 713.647258 407.914842  L 717.140872 416.929999  L 720.634485 415.143211  L 724.128099 423.752279  L 727.621713 423.346191  L 731.115327 403.85396  L 734.608941 403.610308  L 738.102554 406.452925  L 741.596168 418.473134  L 745.089782 420.99088  L 748.583396 420.787836  L 752.07701 415.549299  L 755.570624 431.874042  L 759.064237 435.610053  L 762.557851 437.721711  L 766.051465 455.58959  L 769.545079 457.62003  L 773.038693 449.985573  L 776.532307 450.229226  L 780.02592 451.12262  L 783.519534 436.016141  L 787.013148 440.401893  L 790.506762 450.229226  L 794.000376 445.599821  L 797.493989 441.457722  L 800.987603 440.401893  L 804.481217 430.736995  L 807.974831 425.132979  L 811.468445 414.331035  L 814.962059 417.823393  L 818.455672 426.432461  L 821.949286 432.442566  L 825.4429 437.153188  L 828.936514 443.000857  L 832.430128 427.569508  L 835.923742 422.209144  L 839.417355 410.0265  L 842.910969 420.99088  L 846.404583 422.534015  L 849.898197 417.254869  L 853.391811 409.133106  L 856.885424 421.965492  L 860.379038 420.584792  L 863.872652 425.701502  L 867.366266 415.305646  L 870.85988 427.569508  L 874.353494 428.950208  L 877.847107 430.493343  L 881.340721 426.594896  L 884.834335 416.929999  L 888.327949 415.792952  L 891.821563 415.305646  L 895.315177 402.310826  L 898.80879 400.254545  L 902.302404 413.193988  L 905.796018 419.61018  L 909.289632 441.457722  L 912.783246 438.939976  L 916.27686 445.356169  L 919.770473 461.680912  L 923.264087 463.183438  L 926.757701 460.543865  L 930.251315 467.609799  L 933.744929 456.726636  L 937.238542 463.386482  L 940.732156 467.041275  L 944.22577 492.949699  L 947.719384 487.345682  L 951.212998 486.533506  L 954.706612 502.858249" clip-path="url(#p81e7b99f2a)" style="fill: none; stroke: #2ca02c; stroke-width: 1.5; stroke-linecap: square"/>
</g>
<g id="patch_20">
<path d="M 592.056 640.872 L 592.056 388.872" style="fill: none; stroke: #000000; stroke-width: 0.8; stroke-linejoin: miter; stroke-linecap: square"/>
</g>
<g id="patch_21">
<path d="M 972.216 640.872 L 972.216 388.872" style="fill: none; stroke: #000000; stroke-width: 0.8; stroke-linejoin: miter; stroke-linecap: square"/>
</g>
<g id="patch_22">
<path d="M 592.056 640.872 L 972.216 640.872" style="fill: none; stroke: #000000; stroke-width: 0.8; stroke-linejoin: miter; stroke-linecap: square"/>
</g>
<g id="patch_23">
<path d="M 592.056 388.872 L 972.216 388.872" style="fill: none; stroke: #000000; stroke-width: 0.8; stroke-linejoin: miter; stroke-linecap: square"/>
</g>
<g id="text_61">
<text style="font-size: 12px; font-family: 'DejaVu Sans', sans-serif; text-anchor: middle" x="781.772727" y="382.8">three production concepts</text>
</g>
<g id="legend_3">
<g id="patch_24">
<path d="M 699.6434 445.0362  L 965.2160 445.0362 
Q 967.2160 445.0362 967.2160 443.0362  L 967.2160 395.8000 
Q 967.2160 393.8000 965.2160 393.8000  L 699.6434 393.8000 
Q 697.6434 393.8000 697.6434 395.8000  L 697.6434 443.0362 
Q 697.6434 445.0362 699.6434 445.0362  z" style="fill: #ffffff; opacity: 0.8; stroke: #cccccc; stroke-linejoin: miter"/>
</g>
<g id="line2d_67">
<path d="M 701.8560 402.192 L 711.9360 402.192 L 721.2960 402.192" style="fill: none; stroke: #1f77b4; stroke-width: 1.5; stroke-linecap: square"/>
</g>
<g id="text_62">
<text style="font-size: 10px; font-family: 'DejaVu Sans', sans-serif; text-anchor: start" x="729.9314" y="405.9024">production</text>
</g>
<g id="line2d_68">
<path d="M 701.8560 418.752 L 711.9360 418.752 L 721.2960 418.752" style="fill: none; stroke: #ff7f0e; stroke-width: 1.5; stroke-linecap: square"/>
</g>
<g id="text_63">
<g transform="translate(730.7954 422.6361)"><text x="0" y="-0.40625" style="font-size: 10px; font-family: 'DejaVu Sans', sans-serif">production when</text><text x="90.458984" y="-0.40625" style="font-style: oblique; font-size: 10px; font-family: 'DejaVu Sans', sans-serif">I<tspan x="93.408203" y="1.234375" style="font-size: 7px">t</tspan></text><text x="137.749512" y="-0.40625" style="font-size: 10px; font-family: 'DejaVu Sans', sans-serif">forced to be zero</text></g>
</g>
<g id="line2d_69">
<path d="M 701.8560 435.312 L 711.9360 435.312 L 721.2960 435.312" style="fill: none; stroke: #2ca02c; stroke-width: 1.5; stroke-linecap: square"/>
</g>
<g id="text_64">
<text style="white-space: pre; font-size: 10px; font-family: 'DejaVu Sans', sans-serif; text-anchor: start" x="729.9314" y="439.1006">production when             inventories not useful</text>
</g>
</g>
</g>
<g id="axes_5">
<g id="matplotlib.axis_9">
<g id="ytick_27">
<g id="line2d_70">
<g>
<path d="M 0 0 L 3.5 0" transform="translate(972.216 333.432)" style="stroke: #000000; stroke-width: 0.8"/>
</g>
</g>
<g id="text_65">
<text style="font-size: 10px; font-family: 'DejaVu Sans', sans-serif; text-anchor: start" x="979" y="336.752232">−15</text>
</g>
</g>
<g id="ytick_28">
<g id="line2d_71">
<g>
<path d="M 0 0 L 3.5 0" transform="translate(972.216 293.112)" style="stroke: #000000; stroke-width: 0.8"/>
</g>
</g>
<g id="text_66">
<text style="font-size: 10px; font-family: 'DejaVu Sans', sans-serif; text-anchor: start" x="979" y="296.567894">−10</text>
</g>
</g>
<g id="ytick_29">
<g id="line2d_72">
<g>
<path d="M 0 0 L 3.5 0" transform="translate(972.216 252.792)" style="stroke: #000000; stroke-width: 0.8"/>
</g>
</g>
<g id="text_67">
<text style="font-size: 10px; font-family: 'DejaVu Sans', sans-serif; text-anchor: start" x="979" y="256.383556">−5</text>
</g>
</g>
<g id="ytick_30">
<g id="line2d_73">
<g>
<path d="M 0 0 L 3.5 0" transform="translate(972.216 212.472)" style="stroke: #000000; stroke-width: 0.8"/>
</g>
</g>
<g id="text_68">
<text style="font-size: 10px; font-family: 'DejaVu Sans', sans-serif; text-anchor: start" x="979" y="216.199219">0</text>
</g>
</g>
<g id="ytick_31">
<g id="line2d_74">
<g>
<path d="M 0 0 L 3.5 0" transform="translate(972.216 172.872)" style="stroke: #000000; stroke-width: 0.8"/>
</g>
</g>
<g id="text_69">
<text style="font-size: 10px; font-family: 'DejaVu Sans', sans-serif; text-anchor: start" x="979" y="176.014881">5</text>
</g>
</g>
<g id="ytick_32">
<g id="line2d_75">
<g>
<path d="M 0 0 L 3.5 0" transform="translate(972.216 132.552)" style="stroke: #000000; stroke-width: 0.8"/>
</g>
</g>
<g id="text_70">
<text style="font-size: 10px; font-family: 'DejaVu Sans', sans-serif; text-anchor: start" x="979" y="135.830543">10</text>
</g>
</g>
<g id="ytick_33">
<g id="line2d_76">
<g>
<path d="M 0 0 L 3.5 0" transform="translate(972.216 92.232)" style="stroke: #000000; stroke-width: 0.8"/>
</g>
</g>
<g id="text_71">
<text style="font-size: 10px; font-family: 'DejaVu Sans', sans-serif; text-anchor: start" x="979" y="95.646206">15</text>
</g>
</g>
<g id="text_72">
<text style="font-size: 10px; font-family: 'DejaVu Sans', sans-serif; text-anchor: middle; fill: #ff0000" x="1011.703125" y="212.4" transform="rotate(-90 1011.703125 212.4)">demand shock</text>
</g>
</g>
<g id="line2d_77">
<path d="M 608.838843 212.4  L 612.297521 192.444458  L 615.756198 182.63948  L 619.214876 173.798925  L 622.673554 167.610537  L 626.132231 167.289063  L 629.590909 156.037448  L 633.049587 161.100675  L 636.508264 160.055882  L 639.966942 152.26012  L 643.42562 141.008506  L 646.884298 149.527585  L 650.342975 123.635705  L 653.801653 121.40524  L 657.260331 117.088212  L 660.719008 112.627283  L 664.177686 119.966231  L 667.636364 112.627283  L 671.095041 117.807717  L 674.553719 121.764993  L 678.012397 115.2175  L 681.471074 119.966231  L 684.929752 122.772299  L 688.38843 119.174776  L 691.847107 112.411432  L 695.305785 122.772299  L 698.764463 110.900472  L 702.22314 107.230998  L 705.681818 103.024198  L 709.140496 110.646343  L 712.599174 104.640781  L 716.057851 112.627283  L 719.516529 111.044373  L 722.975207 118.671122  L 726.433884 118.31137  L 729.892562 101.043257  L 733.35124 100.827406  L 736.809917 103.345672  L 740.268595 113.994342  L 743.727273 116.224806  L 747.18595 116.04493  L 750.644628 111.404125  L 754.103306 125.866169  L 757.561983 129.175891  L 761.020661 131.046603  L 764.479339 146.875707  L 767.938017 148.674469  L 771.396694 141.911124  L 774.855372 142.126976  L 778.31405 142.918431  L 781.772727 129.535643  L 785.231405 133.420969  L 788.690083 142.126976  L 792.14876 138.025799  L 795.607438 134.356325  L 799.066116 133.420969  L 802.524793 124.858863  L 805.983471 119.89428  L 809.442149 110.324868  L 812.900826 113.418738  L 816.359504 121.045488  L 819.818182 126.369823  L 823.27686 130.54295  L 826.735537 135.723384  L 830.194215 122.052795  L 833.652893 117.304063  L 837.11157 106.511493  L 840.570248 116.224806  L 844.028926 117.591865  L 847.487603 112.915085  L 850.946281 105.720038  L 854.404959 117.088212  L 857.863636 115.865054  L 861.322314 120.397934  L 864.780992 111.188274  L 868.239669 122.052795  L 871.698347 123.275953  L 875.157025 124.643011  L 878.615702 121.189389  L 882.07438 112.627283  L 885.533058 111.619976  L 888.991736 111.188274  L 892.450413 99.676198  L 895.909091 97.854545  L 899.367769 109.317561  L 902.826446 115.001648  L 906.285124 134.356325  L 909.743802 132.12586  L 913.202479 137.809948  L 916.661157 152.271992  L 920.119835 153.603076  L 923.578512 151.264685  L 927.03719 157.524376  L 930.495868 147.883013  L 933.954545 153.782952  L 937.413223 157.020723  L 940.871901 179.972923  L 944.330579 175.008341  L 947.789256 174.288836  L 951.247934 188.750881" clip-path="url(#p0571e4facb)" style="fill: none; stroke: #ff0000; stroke-width: 1.5; stroke-linecap: square"/>
</g>
<g id="line2d_78">
<path d="M 608.976 212.112 L 954.576 212.112" clip-path="url(#p0571e4facb)" style="fill: none; stroke-dasharray: 5.55,2.4; stroke-dashoffset: 0; stroke: #000000; stroke-width: 1.5"/>
</g>
<g id="patch_25">
<path d="M 592.056 338.472 L 592.056 86.472" style="fill: none; stroke: #000000; stroke-width: 0.8; stroke-linejoin: miter; stroke-linecap: square"/>
</g>
<g id="patch_26">
<path d="M 972.216 338.472 L 972.216 86.472" style="fill: none; stroke: #000000; stroke-width: 0.8; stroke-linejoin: miter; stroke-linecap: square"/>
</g>
<g id="patch_27">
<path d="M 592.056 338.472 L 972.216 338.472" style="fill: none; stroke: #000000; stroke-width: 0.8; stroke-linejoin: miter; stroke-linecap: square"/>
</g>
<g id="patch_28">
<path d="M 592.056 86.472 L 972.216 86.472" style="fill: none; stroke: #000000; stroke-width: 0.8; stroke-linejoin: miter; stroke-linecap: square"/>
</g>
</g>
</g>
<defs>
<clipPath id="p74cd14d514">
<rect x="135" y="86.4" width="380.454545" height="252"/>
</clipPath>
<clipPath id="p0571e4facb">
<rect x="591.545455" y="86.4" width="380.454545" height="252"/>
</clipPath>
<clipPath id="pb5e3364a83">
<rect x="135" y="388.8" width="380.454545" height="252"/>
</clipPath>
<clipPath id="p81e7b99f2a">
<rect x="591.545455" y="388.8" width="380.454545" height="252"/>
</clipPath>
</defs>
</svg>

</div>
</body>
</html>
